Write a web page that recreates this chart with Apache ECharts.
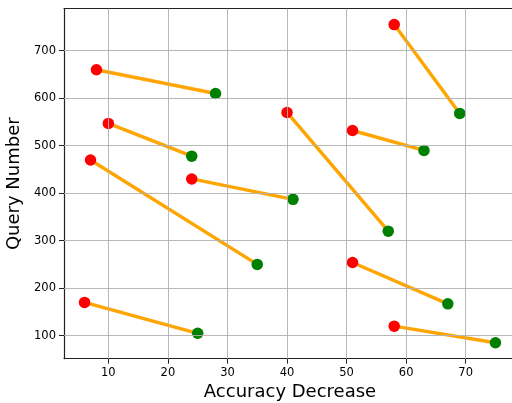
<!DOCTYPE html>
<html><head><meta charset="utf-8">
<script src="https://cdn.jsdelivr.net/npm/echarts@6/dist/echarts.min.js"></script>
<style>html,body{margin:0;padding:0;background:#fff}#c{width:512px;height:403px}</style>
</head><body><div id="c"></div>
<script>
const redX = [8, 10, 7, 24, 6, 40, 51, 58, 51, 58];
const redY = [660, 547, 470, 430, 170, 570, 532, 755, 254, 120];
const greenX = [28, 24, 35, 41, 25, 57, 63, 69, 67, 75];
const greenY = [610, 478, 250, 387, 105, 320, 490, 568, 167, 85];
const xTicks = [10, 20, 30, 40, 50, 60, 70];
const yTicks = [100, 200, 300, 400, 500, 600, 700];

const font = 'DejaVu Sans';
const X_MIN = 2.55, X_MAX = 78.45, Y_MIN = 51.5, Y_MAX = 788.5;
const series = [];
for (let i = 0; i < redX.length; i++) {
  series.push({type:'line', data:[[redX[i],redY[i]],[greenX[i],greenY[i]]], symbol:'none',
    lineStyle:{color:'#FFA500', width:3.4}, z:2, silent:true, animation:false});
}
series.push({type:'scatter', data: redX.map((x,i)=>[x,redY[i]]), symbolSize:11.5,
  itemStyle:{color:'#FF0000', opacity:1}, z:3, animation:false});
series.push({type:'scatter', data: greenX.map((x,i)=>[x,greenY[i]]), symbolSize:11.5,
  itemStyle:{color:'#008000', opacity:1}, z:3, animation:false});
// grid lines
series.push({type:'line', data:[], markLine:{silent:true, symbol:'none', animation:false,
  lineStyle:{color:'#b0b0b0', width:0.9, type:'solid'}, label:{show:false},
  data: xTicks.map(v=>({xAxis:v})).concat(yTicks.map(v=>({yAxis:v})))}, z:1});

const spine = {show:true, onZero:false, lineStyle:{color:'#222', width:1.2}};
const chart = echarts.init(document.getElementById('c'));
chart.setOption({
  animation:false,
  grid:{left:64, top:8.7, right:-4, bottom:44.3, containLabel:false, outerBoundsMode:'none'},
  xAxis:[{type:'value', min:X_MIN, max:X_MAX, name:'Accuracy Decrease', nameLocation:'middle', nameGap:24,
    nameTextStyle:{fontFamily:font, fontSize:18, color:'#000'},
    axisLine:spine,
    axisTick:{show:true, length:5, customValues:xTicks, lineStyle:{color:'#222', width:1}},
    axisLabel:{customValues:xTicks, fontFamily:font, fontSize:11.5, color:'#000', margin:8},
    splitLine:{show:false}},
   {type:'value', position:'top', min:X_MIN, max:X_MAX, axisLine:spine, axisTick:{show:false}, axisLabel:{show:false}, splitLine:{show:false}}],
  yAxis:[{type:'value', min:Y_MIN, max:Y_MAX, name:'Query Number', nameLocation:'middle', nameGap:37, nameRotate:90,
    nameTextStyle:{fontFamily:font, fontSize:18, color:'#000'},
    axisLine:spine,
    axisTick:{show:true, length:5, customValues:yTicks, lineStyle:{color:'#222', width:1}},
    axisLabel:{customValues:yTicks, fontFamily:font, fontSize:11.5, color:'#000', margin:8},
    splitLine:{show:false}},
   {type:'value', position:'right', min:Y_MIN, max:Y_MAX, axisLine:spine, axisTick:{show:false}, axisLabel:{show:false}, splitLine:{show:false}}],
  series: series
});
</script></body></html>
